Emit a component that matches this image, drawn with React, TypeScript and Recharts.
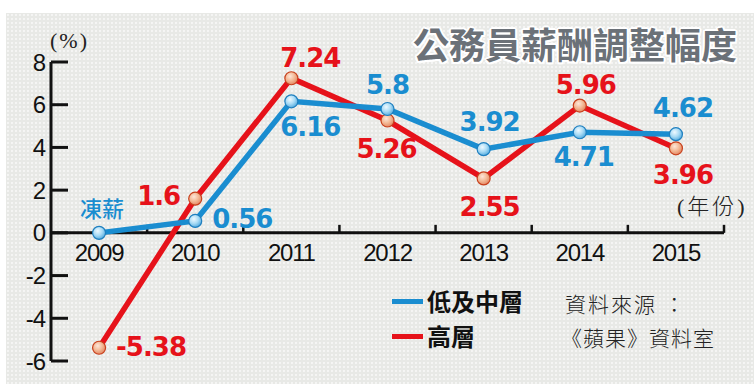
import { LabelList, Line, LineChart, ReferenceLine, XAxis, YAxis } from "recharts";

const YEARS = ["2009", "2010", "2011", "2012", "2013", "2014", "2015"];
const MID_LOW = [0, 0.56, 6.16, 5.8, 3.92, 4.71, 4.62];
const SENIOR = [-5.38, 1.6, 7.24, 5.26, 2.55, 5.96, 3.96];
const MID_LOW_LABELS = ["凍薪", "0.56", "6.16", "5.8", "3.92", "4.71", "4.62"];
const SENIOR_LABELS = ["-5.38", "1.6", "7.24", "5.26", "2.55", "5.96", "3.96"];
const Y_TICKS = [-6, -4, -2, 0, 2, 4, 6, 8];

const TITLE = "公務員薪酬調整幅度";
const MID_LOW_NAME = "低及中層";
const SENIOR_NAME = "高層";

const BLUE = "#1a8dd0";
const RED = "#e6121a";

// where each value label sits relative to its dot: [dx, dy, anchor]
const MID_LOW_LABEL_POS: [number, number, string][] = [
  [3, -26, "middle"],
  [17, -2, "start"],
  [19, 26, "middle"],
  [0, -24, "middle"],
  [6, -27, "middle"],
  [4, 25, "middle"],
  [7, -26, "middle"],
];
const SENIOR_LABEL_POS: [number, number, string][] = [
  [17, -1, "start"],
  [-15, -3, "end"],
  [19, -20, "middle"],
  [-1, 28, "middle"],
  [6, 29, "middle"],
  [6, -21, "middle"],
  [7, 27, "middle"],
];

const rows = YEARS.map((year, i) => ({
  year,
  midLow: MID_LOW[i],
  senior: SENIOR[i],
  midLowLabel: MID_LOW_LABELS[i],
  seniorLabel: SENIOR_LABELS[i],
}));

const SANS = "'Liberation Sans', Arial, sans-serif";
const CJK = "'Noto Sans CJK TC', 'Noto Sans CJK SC', sans-serif";

function YTick(props: any) {
  const { x, y, payload } = props;
  return (
    <g>
      <line x1={x + 6} x2={x + 23} y1={y} y2={y} stroke="#111" strokeWidth={3} />
      <text
        x={x}
        y={y}
        textAnchor="end"
        dominantBaseline="central"
        fontFamily={SANS}
        fontSize={24}
        letterSpacing={-1}
        fill="#111"
      >
        {payload.value}
      </text>
    </g>
  );
}

// x axis drawn along y = 0, with year labels under it
function ZeroAxis(props: any) {
  const { x1, x2, y1 } = props;
  const band = (x2 - x1) / YEARS.length;
  return (
    <g>
      <line x1={x1} x2={x2} y1={y1} y2={y1} stroke="#111" strokeWidth={3} />
      {YEARS.map((year, i) => (
        <g key={year}>
          <line
            x1={x1 + band * (i + 1)}
            x2={x1 + band * (i + 1)}
            y1={y1}
            y2={y1 - 8}
            stroke="#111"
            strokeWidth={2.5}
          />
          <text
            x={x1 + band * (i + 0.5)}
            y={y1 + 20}
            textAnchor="middle"
            dominantBaseline="central"
            fontFamily={SANS}
            fontSize={24}
            letterSpacing={-1.2}
            fill="#111"
          >
            {year}
          </text>
        </g>
      ))}
    </g>
  );
}

function Dot(props: any) {
  const { cx, cy, kind } = props;
  if (cx == null || cy == null) return null;
  return (
    <circle
      cx={cx}
      cy={cy}
      r={6.5}
      fill={`url(#dot-${kind})`}
      stroke={kind === "blue" ? "#1f7fbf" : "#c8401c"}
      strokeWidth={1.2}
    />
  );
}

function makeLabel(positions: [number, number, string][], color: string) {
  return function ValueLabel(props: any) {
    const { x, y, index, value } = props;
    const [dx, dy, anchor] = positions[index];
    const isWord = value === "凍薪";
    return (
      <text
        x={x + dx}
        y={y + dy}
        textAnchor={anchor as any}
        dominantBaseline="central"
        fontFamily={isWord ? CJK : "'DejaVu Sans', sans-serif"}
        fontWeight={isWord ? 500 : 700}
        fontSize={isWord ? 22 : 26}
        letterSpacing={isWord ? 0 : -1}
        fill={color}
      >
        {value}
      </text>
    );
  };
}

const MidLowLabel = makeLabel(MID_LOW_LABEL_POS, BLUE);
const SeniorLabel = makeLabel(SENIOR_LABEL_POS, RED);

export default function App() {
  return (
    <div
      style={{
        position: "absolute",
        left: 0,
        top: 0,
        width: 754,
        height: 384,
        background: "#fff",
        overflow: "hidden",
      }}
    >
      <svg width={0} height={0} style={{ position: "absolute" }}>
        <defs>
          <radialGradient id="dot-blue" cx="40%" cy="35%" r="70%">
            <stop offset="0" stopColor="#eef9ff" />
            <stop offset="0.5" stopColor="#a9dbf5" />
            <stop offset="1" stopColor="#4aa6dc" />
          </radialGradient>
          <radialGradient id="dot-red" cx="40%" cy="35%" r="70%">
            <stop offset="0" stopColor="#fde6d8" />
            <stop offset="0.5" stopColor="#f3b996" />
            <stop offset="1" stopColor="#e2805c" />
          </radialGradient>
        </defs>
      </svg>
      <div
        style={{
          position: "absolute",
          left: 6,
          top: 13,
          width: 748,
          height: 371,
          backgroundColor: "#e8e9e6",
          backgroundImage: "radial-gradient(circle, rgba(255,255,255,0.75) 0.6px, transparent 1px)",
          backgroundSize: "4px 4px",
        }}
      />
      <div style={{ position: "absolute", left: 0, top: 0 }}>
        <LineChart width={754} height={384} data={rows} margin={{ top: 62, right: 30, bottom: 23, left: 0 }}>
          <XAxis dataKey="year" scale="band" hide />
          <YAxis
            domain={[-6, 8]}
            ticks={Y_TICKS}
            width={51}
            interval={0}
            axisLine={{ stroke: "#111", strokeWidth: 3 }}
            tickLine={false}
            tickSize={0}
            tickMargin={6}
            tick={<YTick />}
          />
          <ReferenceLine y={0} shape={(p: any) => <ZeroAxis {...p} />} />
          <Line
            dataKey="senior"
            stroke={RED}
            strokeWidth={5.5}
            type="linear"
            isAnimationActive={false}
            dot={(p: any) => <Dot key={p.index} {...p} kind="red" />}
            activeDot={false}
          >
            <LabelList dataKey="seniorLabel" content={<SeniorLabel />} />
          </Line>
          <Line
            dataKey="midLow"
            stroke={BLUE}
            strokeWidth={5.5}
            type="linear"
            isAnimationActive={false}
            dot={(p: any) => <Dot key={p.index} {...p} kind="blue" />}
            activeDot={false}
          >
            <LabelList dataKey="midLowLabel" content={<MidLowLabel />} />
          </Line>
        </LineChart>
      </div>
      <div
        style={{
          position: "absolute",
          left: 413,
          top: 24,
          fontFamily: CJK,
          fontWeight: 700,
          fontSize: 36,
          lineHeight: "38px",
          color: "#6b7178",
          whiteSpace: "nowrap",
          textShadow:
            "2px 0 #fff, -2px 0 #fff, 0 2px #fff, 0 -2px #fff, 1.5px 1.5px #fff, -1.5px 1.5px #fff, 1.5px -1.5px #fff, -1.5px -1.5px #fff",
        }}
      >
        {TITLE}
      </div>
      <div
        style={{
          position: "absolute",
          left: 50,
          top: 30,
          fontFamily: "'Liberation Serif', serif",
          fontSize: 22,
          lineHeight: "22px",
          letterSpacing: 2,
          color: "#222",
        }}
      >
        (%)
      </div>
      <div
        style={{
          position: "absolute",
          left: 677,
          top: 196,
          fontFamily: `'Liberation Serif', ${CJK}`,
          fontWeight: 300,
          fontSize: 22,
          lineHeight: "22px",
          letterSpacing: 3,
          color: "#222",
          whiteSpace: "nowrap",
        }}
      >
        (年份)
      </div>
      {[
        { name: MID_LOW_NAME, color: BLUE, y: 301 },
        { name: SENIOR_NAME, color: RED, y: 336 },
      ].map((item) => (
        <div
          key={item.name}
          style={{ position: "absolute", left: 392, top: item.y - 13, height: 26, display: "flex", alignItems: "center" }}
        >
          <span style={{ display: "inline-block", width: 31, height: 5, background: item.color, marginRight: 4 }} />
          <span
            style={{
              fontFamily: CJK,
              fontWeight: 700,
              fontSize: 24,
              lineHeight: "26px",
              color: "#111",
              whiteSpace: "nowrap",
            }}
          >
            {item.name}
          </span>
        </div>
      ))}
      <div
        style={{
          position: "absolute",
          left: 565,
          top: 292,
          fontFamily: CJK,
          fontWeight: 300,
          fontSize: 21,
          lineHeight: "22px",
          letterSpacing: 2,
          color: "#222",
          whiteSpace: "nowrap",
        }}
      >
        資料來源 ：
      </div>
      <div
        style={{
          position: "absolute",
          left: 561,
          top: 326,
          fontFamily: CJK,
          fontWeight: 300,
          fontSize: 21,
          lineHeight: "22px",
          letterSpacing: 1,
          color: "#222",
          whiteSpace: "nowrap",
        }}
      >
        《蘋果》資料室
      </div>
    </div>
  );
}
